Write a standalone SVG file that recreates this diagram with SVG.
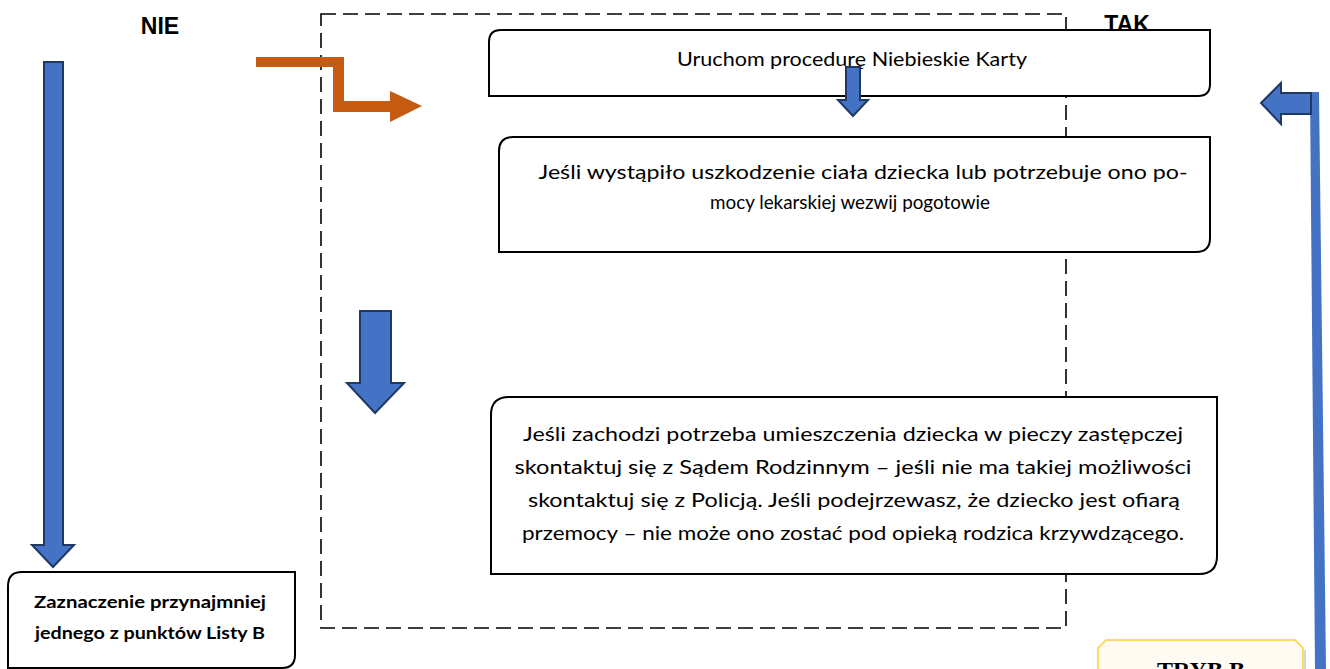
<svg xmlns="http://www.w3.org/2000/svg" width="1330" height="669" viewBox="0 0 1330 669">
<style>
.box{fill:#fff;stroke:#000;stroke-width:2}
.t{font-family:Lato,"Liberation Sans",Arial,sans-serif;font-size:20px;fill:#000;text-anchor:middle}
.tb{font-family:Lato,"Liberation Sans",Arial,sans-serif;font-size:17px;font-weight:bold;fill:#000;text-anchor:middle}
.hd{font-family:"Liberation Sans",Arial,sans-serif;font-size:23px;font-weight:bold;fill:#000;text-anchor:middle}
.blue{fill:#4472C4;stroke:#1F3864;stroke-width:2}
</style>
<rect width="1330" height="669" fill="#fff"/>
<g id="frame">
<rect x="321" y="14" width="745" height="614" fill="none" stroke="#000" stroke-width="1.6" stroke-dasharray="15 7"/>
</g>
<g id="label-nie"><text class="hd" x="160" y="34">NIE</text></g>
<g id="label-tak"><text class="hd" x="1127" y="32" font-size="24">TAK</text></g>
<g id="node-uruchom">
<path class="box" d="M501,30 H1210 V84 Q1210,96 1198,96 H489 V42 Q489,30 501,30 Z"/>
<text class="t" x="852" y="66" textLength="350" lengthAdjust="spacingAndGlyphs">Uruchom procedurę Niebieskie Karty</text>
</g>
<g id="node-pogotowie">
<path class="box" d="M513,137 H1210 V238 Q1210,252 1196,252 H499 V151 Q499,137 513,137 Z"/>
<text class="t" x="863" y="179" textLength="649" lengthAdjust="spacingAndGlyphs">Jeśli wystąpiło uszkodzenie ciała dziecka lub potrzebuje ono po-</text>
<text class="t" x="850" y="209" textLength="280" lengthAdjust="spacingAndGlyphs">mocy lekarskiej wezwij pogotowie</text>
</g>
<g id="node-piecza">
<path class="box" d="M509,397 H1217 V556 Q1217,574 1199,574 H491 V415 Q491,397 509,397 Z"/>
<text class="t" x="853" y="441" textLength="660" lengthAdjust="spacingAndGlyphs">Jeśli zachodzi potrzeba umieszczenia dziecka w pieczy zastępczej</text>
<text class="t" x="853" y="474" textLength="677" lengthAdjust="spacingAndGlyphs">skontaktuj się z Sądem Rodzinnym – jeśli nie ma takiej możliwości</text>
<text class="t" x="854" y="507" textLength="652" lengthAdjust="spacingAndGlyphs">skontaktuj się z Policją. Jeśli podejrzewasz, że dziecko jest ofiarą</text>
<text class="t" x="853" y="540" textLength="662" lengthAdjust="spacingAndGlyphs">przemocy – nie może ono zostać pod opieką rodzica krzywdzącego.</text>
</g>
<g id="node-lista-b">
<path class="box" d="M22,572 H295 V655 Q295,668 282,668 H8 V586 Q8,572 22,572 Z"/>
<text class="tb" x="150" y="608" textLength="232" lengthAdjust="spacingAndGlyphs">Zaznaczenie przynajmniej</text>
<text class="tb" x="150" y="639" textLength="230" lengthAdjust="spacingAndGlyphs">jednego z punktów Listy B</text>
</g>
<g id="node-tryb-b">
<path d="M1306,650 L1306,672 L1102,672 L1102,652 Z" fill="#bbb" opacity="0.6"/>
<path d="M1106,640 H1295 L1303,648 V672 H1098 V648 Z" fill="#FFFBF2" stroke="#FFD966" stroke-width="2"/>
<text x="1201" y="678" font-family="'Liberation Serif','Times New Roman',serif" font-size="24" font-weight="bold" text-anchor="middle" fill="#000">TRYB B</text>
</g>
<g id="connectors">
<polygon fill="#C55A11" points="256,57 344,57 344,101 390,101 390,91 422,106 390,122 390,112 333,112 333,67 256,67"/>
<polygon class="blue" points="44,62 63,62 63,545 74,545 53,567 32,545 44,545"/>
<polygon class="blue" points="846,67 860,67 860,100 868,100 853,116 838,100 846,100"/>
<polygon class="blue" points="360,311 391,311 391,383 404,383 375,413 347,383 360,383"/>
<polygon fill="#4472C4" points="1310,92 1319,92 1326,669 1315,669"/>
<polygon class="blue" points="1311,93 1311,114 1281,114 1281,124 1261,103 1281,83 1281,93"/>
</g>
</svg>
